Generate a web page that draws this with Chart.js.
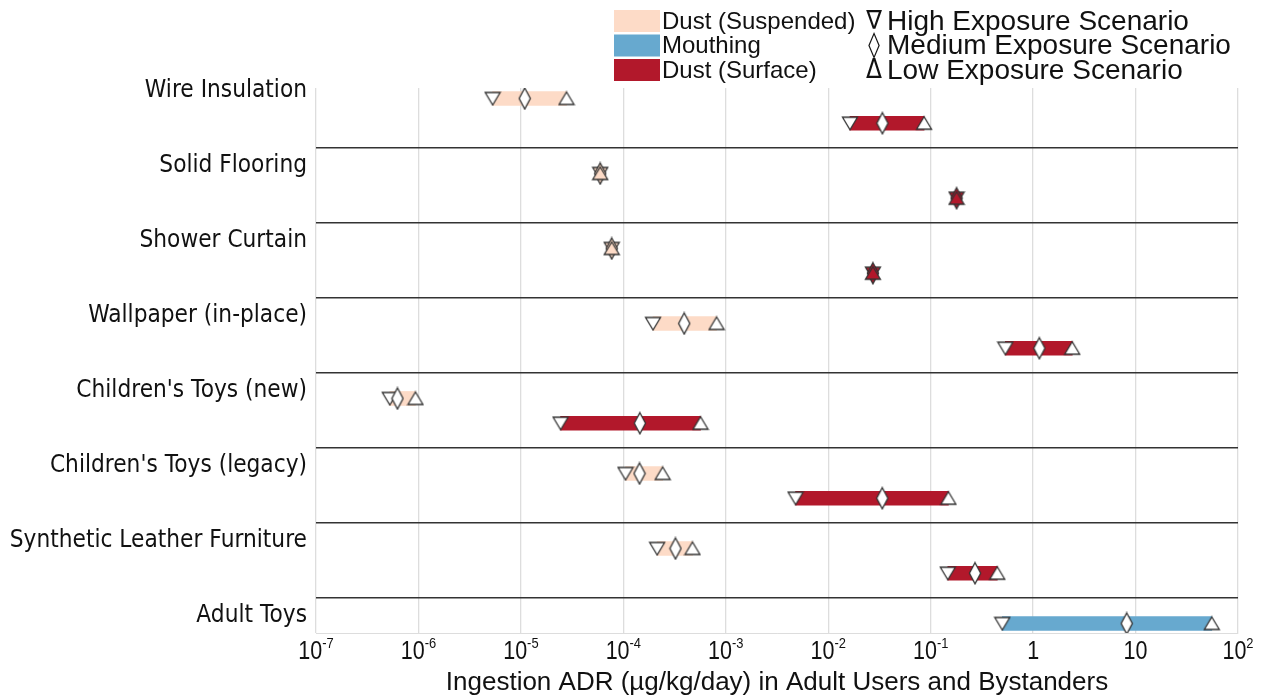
<!DOCTYPE html>
<html>
<head>
<meta charset="utf-8">
<script src="https://cdn.jsdelivr.net/npm/chart.js@4.4.1/dist/chart.umd.min.js"></script>
<style>
  html, body { margin: 0; padding: 0; background: #ffffff; }
  #wrap { width: 1268px; height: 698px; position: relative; }
</style>
</head>
<body>
<div id="wrap"><canvas id="chart" width="1268" height="698"></canvas></div>
<script>
// Product categories, top to bottom
const categories = [
  'Wire Insulation',
  'Solid Flooring',
  'Shower Curtain',
  'Wallpaper (in-place)',
  "Children's Toys (new)",
  "Children's Toys (legacy)",
  'Synthetic Leather Furniture',
  'Adult Toys'
];

// Ingestion ADR (µg/kg/day) per pathway and exposure scenario
const suspendedHigh   = [5.3e-6, 5.95e-5, 7.7e-5, 1.95e-4, 5.25e-7, 1.05e-4, 2.14e-4, null];
const suspendedMedium = [1.09e-5, 5.95e-5, 7.7e-5, 3.93e-4, 6.24e-7, 1.44e-4, 3.23e-4, null];
const suspendedLow    = [2.79e-5, 5.95e-5, 7.7e-5, 8.13e-4, 9.35e-7, 2.42e-4, 4.73e-4, null];

const surfaceHigh   = [0.0163, 0.179, 0.0273, 0.536, 2.44e-5, 4.8e-3, 0.147, null];
const surfaceMedium = [0.0338, 0.179, 0.0273, 1.15, 1.45e-4, 0.0337, 0.271, null];
const surfaceLow    = [0.0863, 0.179, 0.0273, 2.41, 5.67e-4, 0.149, 0.447, null];

const mouthingHigh   = [null, null, null, null, null, null, null, 0.50];
const mouthingMedium = [null, null, null, null, null, null, null, 8.2];
const mouthingLow    = [null, null, null, null, null, null, null, 55.5];

// Axis ticks
const xTickValues = [1e-7, 1e-6, 1e-5, 1e-4, 1e-3, 1e-2, 1e-1, 1, 10, 100];
const xTickLabels = ['10^-7', '10^-6', '10^-5', '10^-4', '10^-3', '10^-2', '10^-1', '1', '10', '10^2'];
const xTitle = 'Ingestion ADR (µg/kg/day) in Adult Users and Bystanders';

const PEACH = '#fddbc7';
const BLUE = '#67a9cf';
const RED = '#b2182b';
const OUTLINE = '#333333';

// Each category occupies one unit on the (hidden) vertical axis;
// the upper lane holds suspended dust / mouthing, the lower lane surface dust.
const UPPER_LANE = 0.34;
const LOWER_LANE = 0.67;
const LABEL_POS = 0.235;

const pathways = [
  { name: 'Dust (Suspended)', color: PEACH, lane: UPPER_LANE, hi: suspendedHigh, med: suspendedMedium, lo: suspendedLow },
  { name: 'Mouthing', color: BLUE, lane: UPPER_LANE, hi: mouthingHigh, med: mouthingMedium, lo: mouthingLow },
  { name: 'Dust (Surface)', color: RED, lane: LOWER_LANE, hi: surfaceHigh, med: surfaceMedium, lo: surfaceLow }
];

// Marker glyphs rendered once to small canvases
const markerCache = {};
function marker(shape, fill) {
  const key = shape + fill;
  if (markerCache[key]) return markerCache[key];
  const c = document.createElement('canvas');
  const g = c.getContext('2d');
  if (shape === 'diamond') {
    c.width = 14; c.height = 24;
    g.beginPath();
    g.moveTo(7, 1.5); g.lineTo(12.6, 12); g.lineTo(7, 22.5); g.lineTo(1.4, 12);
  } else if (shape === 'down') {
    c.width = 18; c.height = 16;
    g.beginPath();
    g.moveTo(1.5, 2); g.lineTo(16.5, 2); g.lineTo(9, 14.5);
  } else {
    c.width = 18; c.height = 16;
    g.beginPath();
    g.moveTo(9, 1.5); g.lineTo(16.5, 14); g.lineTo(1.5, 14);
  }
  g.closePath();
  g.fillStyle = fill;
  g.fill();
  g.lineWidth = 1.3;
  g.strokeStyle = OUTLINE;
  g.lineJoin = 'miter';
  g.stroke();
  markerCache[key] = c;
  return c;
}

const datasets = [];
pathways.forEach(p => {
  const bars = [];
  const pts = { hi: [], med: [], lo: [] };
  categories.forEach((cat, i) => {
    if (p.hi[i] == null) return;
    const y = i + p.lane;
    const flat = p.hi[i] === p.lo[i];
    bars.push({ y: y, x: [p.hi[i], p.lo[i]] });
    pts.hi.push({ x: p.hi[i], y: y, flat: flat });
    pts.med.push({ x: p.med[i], y: y, flat: flat });
    pts.lo.push({ x: p.lo[i], y: y, flat: flat });
  });
  datasets.push({
    type: 'bar', label: p.name, indexAxis: 'y', grouped: false,
    data: bars, backgroundColor: p.color, borderWidth: 0, barThickness: 14, order: 10
  });
  const fillOf = ctx => (ctx.raw && ctx.raw.flat) ? p.color : '#ffffff';
  [['hi', 'down', 3], ['med', 'diamond', 2], ['lo', 'up', 1]].forEach(([k, shape, ord]) => {
    datasets.push({
      type: 'scatter', label: p.name + ' ' + k, data: pts[k], order: ord,
      showLine: false, pointRadius: 8, pointHoverRadius: 8,
      pointStyle: ctx => marker(shape, fillOf(ctx))
    });
  });
});

// Text helper with horizontal scaling
function text(ctx, str, x, y, font, align, sx, color) {
  ctx.save();
  ctx.font = font;
  ctx.fillStyle = color || '#111111';
  ctx.textBaseline = 'middle';
  ctx.textAlign = align;
  ctx.translate(x, y);
  ctx.scale(sx, 1);
  ctx.fillText(str, 0, 0);
  ctx.restore();
}

const decorations = {
  id: 'decorations',
  afterDraw(chart) {
    const ctx = chart.ctx;
    const area = chart.chartArea;
    const xs = chart.scales.x;
    const ys = chart.scales.y;

    // category labels
    categories.forEach((c, i) => {
      text(ctx, c, area.left - 9, ys.getPixelForValue(i + LABEL_POS), '25px "DejaVu Sans"', 'right', 0.87, '#111');
    });

    // x tick labels with superscript exponents
    const baseFont = '25px "Liberation Sans"';
    const expFont = '15px "Liberation Sans"';
    const sx = 0.86;
    xTickValues.forEach((v, i) => {
      const parts = xTickLabels[i].split('^');
      const px = xs.getPixelForValue(v);
      const ty = area.bottom + 19;
      ctx.save();
      ctx.font = baseFont;
      const wb = ctx.measureText(parts[0]).width * sx;
      ctx.font = expFont;
      const we = parts[1] ? ctx.measureText(parts[1]).width * sx : 0;
      ctx.restore();
      const start = px - (wb + we) / 2;
      text(ctx, parts[0], start, ty, baseFont, 'left', sx, '#111');
      if (parts[1]) text(ctx, parts[1], start + wb, ty - 8, expFont, 'left', sx, '#111');
    });

    // axis title
    text(ctx, xTitle, (area.left + area.right) / 2, area.bottom + 50, '26px "Liberation Sans"', 'center', 1, '#111');

    // legend: pathway swatches
    const rowY = [21, 45.5, 70];
    pathways.forEach((p, i) => {
      ctx.fillStyle = p.color;
      ctx.fillRect(614, rowY[i] - 11, 46, 22);
      text(ctx, p.name, 662, rowY[i] + 1, '24px "Liberation Sans"', 'left', 1, '#111');
    });
    // legend: scenario symbols
    const scen = [['∇', 'High Exposure Scenario'], ['◊', 'Medium Exposure Scenario'], ['Δ', 'Low Exposure Scenario']];
    scen.forEach((s, i) => {
      text(ctx, s[0], 874, rowY[i] + 1, '26px "DejaVu Sans"', 'center', 0.9, '#111');
      text(ctx, s[1], 887, rowY[i] + 1, '28px "Liberation Sans"', 'left', 1, '#111');
    });
  }
};

new Chart(document.getElementById('chart'), {
  type: 'scatter',
  data: { datasets: datasets },
  options: {
    responsive: false,
    animation: false,
    events: [],
    layout: { padding: { left: 316, right: 30, top: 88, bottom: 65 } },
    plugins: { legend: { display: false }, tooltip: { enabled: false } },
    scales: {
      x: {
        type: 'logarithmic', min: 1e-7, max: 1e2, offset: false,
        afterBuildTicks: s => { s.ticks = xTickValues.map(v => ({ value: v })); },
        ticks: { display: false },
        grid: { color: '#dddddd', lineWidth: 1.3, drawTicks: false, offset: false },
        border: { display: true, color: '#dddddd', width: 1 }
      },
      y: {
        type: 'linear', reverse: true, min: 0.2, max: 7.467, offset: false,
        afterBuildTicks: s => { s.ticks = categories.slice(1).map((c, i) => ({ value: i + 1 })); },
        ticks: { display: false },
        grid: { color: '#333333', lineWidth: 1.5, drawTicks: false, offset: false },
        border: { display: false }
      }
    }
  },
  plugins: [decorations]
});
</script>
</body>
</html>
